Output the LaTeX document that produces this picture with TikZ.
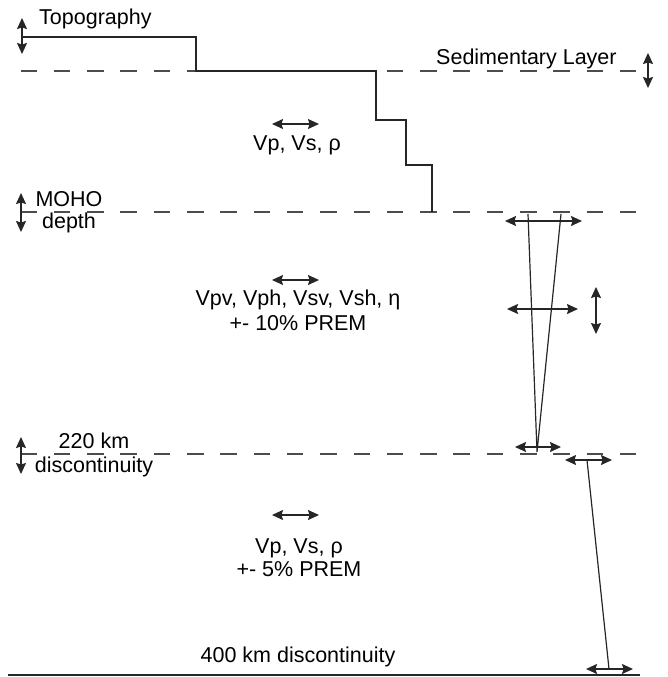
\documentclass[tikz,border=0pt]{standalone}
\usepackage{fontspec}
\setmainfont{Liberation Sans}
\usetikzlibrary{arrows.meta}
\begin{document}
\begin{tikzpicture}[x=1pt,y=-1pt,
  solidline/.style={line width=1.4pt,color=black!85},
  dashline/.style={line width=1.4pt,color=black!70,dash pattern=on 16.5pt off 16.8pt},
  dblarrow/.style={line width=1.3pt,color=black!85,{Stealth[length=11pt,width=10pt,inset=1.5pt]}-{Stealth[length=11pt,width=10pt,inset=1.5pt]}},
  lbl/.style={inner sep=0pt,text=black,font=\fontsize{21.5}{25}\selectfont}]
\useasboundingbox (0,0) rectangle (667,677);

% ---- levels (dashed lines) ----
\coordinate (sedL) at (20.5,71);   \coordinate (sedR) at (637,71);
\coordinate (mohoL) at (20.5,212); \coordinate (mohoR) at (637,212);
\coordinate (dL) at (20.5,454);    \coordinate (dR) at (637,454);
\coordinate (fL) at (8,675);       \coordinate (fR) at (640,675);

\draw[dashline] (sedL) -- (sedR);
\draw[dashline] (mohoL) -- (mohoR);
\draw[dashline] (dL) -- (dR);
\draw[solidline] (fL) -- (fR);

% ---- topography / step profile ----
\coordinate (t0) at (23,37);
\coordinate (t1) at (196,37);
\coordinate (t2) at (196,71);
\coordinate (t3) at (376,71);
\coordinate (t4) at (376,120);
\coordinate (t5) at (406,120);
\coordinate (t6) at (406,165);
\coordinate (t7) at (432,165);
\coordinate (t8) at (432,212);
\draw[solidline] (t0) -- (t1) -- (t2) -- (t3) -- (t4) -- (t5) -- (t6) -- (t7) -- (t8);

% ---- vertical double arrows ----
\coordinate (a1t) at (22,18);  \coordinate (a1b) at (22,54);
\coordinate (a2t) at (648,53); \coordinate (a2b) at (648,88);
\coordinate (a3t) at (21,193); \coordinate (a3b) at (21,232);
\coordinate (a4t) at (21,437); \coordinate (a4b) at (21,474);
\coordinate (a5t) at (596,287); \coordinate (a5b) at (596,334);
\draw[dblarrow] (a1t) -- (a1b);
\draw[dblarrow] (a2t) -- (a2b);
\draw[dblarrow] (a3t) -- (a3b);
\draw[dblarrow] (a4t) -- (a4b);
\draw[dblarrow] (a5t) -- (a5b);

% ---- horizontal double arrows ----
\coordinate (h1l) at (272,124); \coordinate (h1r) at (319,124);
\coordinate (h2l) at (272,280); \coordinate (h2r) at (319,280);
\coordinate (h3l) at (272,515); \coordinate (h3r) at (319,515);
\coordinate (h4l) at (505,221); \coordinate (h4r) at (582,221);
\coordinate (h5l) at (507,309); \coordinate (h5r) at (578,309);
\coordinate (h6l) at (515,447); \coordinate (h6r) at (561,447);
\coordinate (h7l) at (565,460); \coordinate (h7r) at (612,460);
\coordinate (h8l) at (586,669); \coordinate (h8r) at (633,669);
\foreach \n in {1,...,8}{\draw[dblarrow] (h\n l) -- (h\n r);}

% ---- gradient lines ----
\coordinate (g1) at (528,214);
\coordinate (g2) at (561,214);
\coordinate (g3) at (537,452);
\coordinate (g4) at (587,460);
\coordinate (g5) at (609,669);
\draw[solidline,line width=1.2pt] (g1) -- (g3) -- (g2);
\draw[solidline,line width=1.2pt] (g4) -- (g5);

% ---- labels ----
\node[lbl,anchor=base west] (topo) at (39,25) {Topography};
\node[lbl,anchor=base west] (sed) at (436,65) {Sedimentary Layer};
\node[lbl,anchor=base] (moho) at (69,206) {MOHO};
\node[lbl,anchor=base] (depth) at (69,228) {depth};
\node[lbl,anchor=base] (d220) at (94,448) {220 km};
\node[lbl,anchor=base] (disc) at (94,472) {discontinuity};
\node[lbl,anchor=base] (crust) at (297,150) {Vp, Vs, ρ};
\node[lbl,anchor=base] (lidA) at (298,305) {Vpv, Vph, Vsv, Vsh, η};
\node[lbl,anchor=base] (lidB) at (298,330) {+- 10\% PREM};
\node[lbl,anchor=base] (lowA) at (299,553) {Vp, Vs, ρ};
\node[lbl,anchor=base] (lowB) at (299,576) {+- 5\% PREM};
\node[lbl,anchor=base] (d400) at (298,662) {400 km discontinuity};
\end{tikzpicture}
\end{document}
